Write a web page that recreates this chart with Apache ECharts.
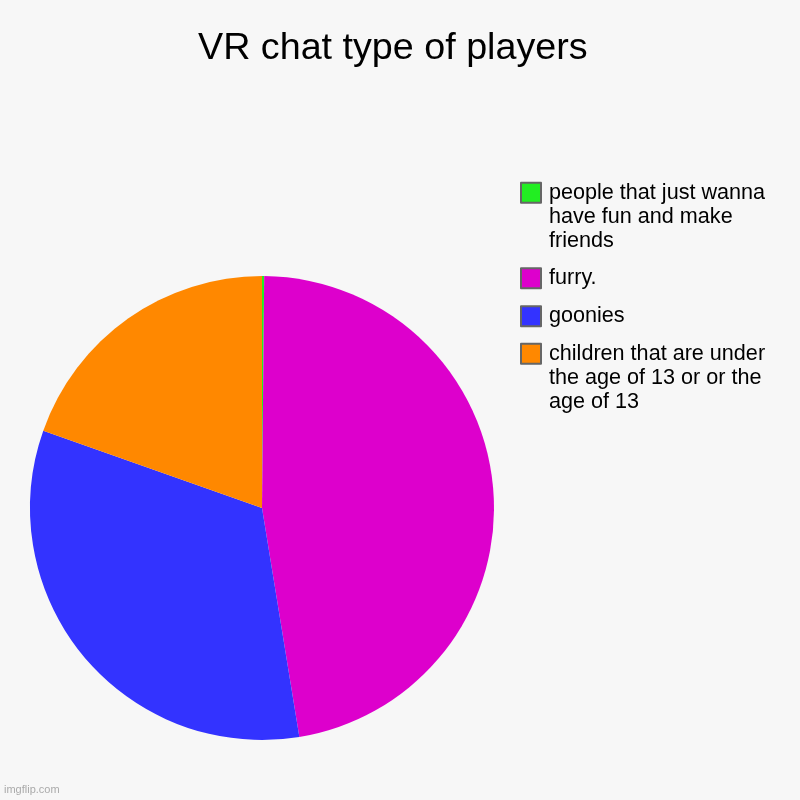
<!DOCTYPE html>
<html>
<head>
<meta charset="utf-8">
<script src="https://cdn.jsdelivr.net/npm/echarts@6/dist/echarts.min.js"></script>
<style>
html,body{margin:0;padding:0;background:#f7f7f7;}
#chart{width:800px;height:800px;}
</style>
</head>
<body>
<div id="chart"></div>
<script>
const titleText = 'VR chat type of players';
const categories = [
  'people that just wanna have fun and make friends',
  'furry.',
  'goonies',
  'children that are under the age of 13 or or the age of 13'
];
const values = [0.15, 47.3, 33.0, 19.6];
const colors = ['#22ee22', '#dd00cc', '#3333ff', '#ff8800'];
const legendLines = [3, 1, 1, 3];
const legendTops = [132, 266, 304, 293];

const LH = 24.3;
const FS = 21.6;

const legends = categories.map((name, i) => ({
  orient: 'vertical',
  left: 520,
  top: legendTops[i],
  padding: 0,
  data: [name],
  icon: 'rect',
  itemWidth: 20,
  itemHeight: 20,
  itemGap: 0,
  selectedMode: false,
  // blank leading lines keep the first text line level with the swatch
  formatter: n => '\n'.repeat(legendLines[i] - 1) + n,
  itemStyle: { borderColor: '#666666', borderWidth: 2 },
  textStyle: {
    fontFamily: 'Liberation Sans, Arial, sans-serif',
    fontSize: FS,
    lineHeight: LH,
    color: '#000000',
    width: 235,
    overflow: 'break',
    padding: [0, 0, 0, 3]
  }
}));

const chart = echarts.init(document.getElementById('chart'), null, { renderer: 'canvas' });
chart.setOption({
  backgroundColor: '#f7f7f7',
  animation: false,
  title: {
    text: titleText,
    left: 198,
    top: 30,
    padding: 0,
    textStyle: {
      fontFamily: 'Liberation Sans, Arial, sans-serif',
      fontSize: 37.7,
      fontWeight: 'normal',
      color: '#000000'
    }
  },
  graphic: [{
    type: 'text',
    left: 4,
    top: 784,
    style: {
      text: 'imgflip.com',
      fontFamily: 'Liberation Sans, Arial, sans-serif',
      fontSize: 11,
      fill: '#aaaaaa'
    }
  }],
  legend: legends,
  series: [{
    type: 'pie',
    center: [262, 508],
    radius: 232,
    startAngle: 90,
    clockwise: true,
    label: { show: false },
    labelLine: { show: false },
    emphasis: { disabled: true },
    itemStyle: { borderWidth: 0 },
    data: categories.map((name, i) => ({
      name: name,
      value: values[i],
      itemStyle: { color: colors[i] }
    }))
  }]
});
</script>
</body>
</html>
